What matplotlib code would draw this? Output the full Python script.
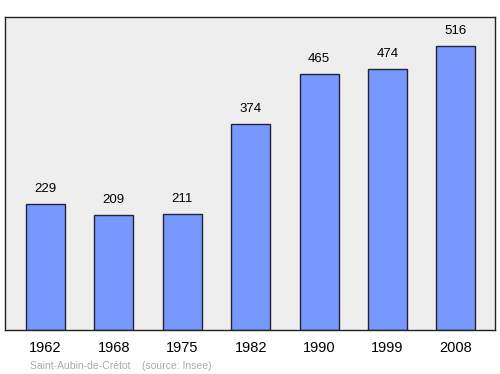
import matplotlib
matplotlib.use("Agg")
import matplotlib.pyplot as plt

years = ["1962", "1968", "1975", "1982", "1990", "1999", "2008"]
population = [229, 209, 211, 374, 465, 474, 516]

plt.rcParams['font.family'] = ['Liberation Sans', 'DejaVu Sans']

fig = plt.figure(figsize=(5, 3.74), dpi=100)
ax = fig.add_axes([0.01, 0.1176, 0.98, 0.837])
ax.set_facecolor("#eeeeee")

pos = list(range(len(years)))
ax.bar(pos, population, width=0.57, color="#7799ff", edgecolor="#222233", linewidth=1)
for x, v in zip(pos, population):
    ax.annotate(str(v), (x, v), xytext=(0, 6.5), textcoords="offset points",
                ha="center", va="bottom", fontsize=9.5)

ax.set_xlim(-0.59, 6.57)
ax.set_ylim(0, 568)
ax.set_yticks([])
ax.set_xticks(pos)
ax.set_xticklabels(years, fontsize=10.5)
ax.tick_params(axis="x", length=0, pad=8)
for s in ax.spines.values():
    s.set_color("#222222")
    s.set_linewidth(1)

fig.text(0.06, 0.014, "Saint-Aubin-de-Crétot    (source: Insee)", fontsize=7.5, color="#aaaaaa")

fig.savefig("out.png")
